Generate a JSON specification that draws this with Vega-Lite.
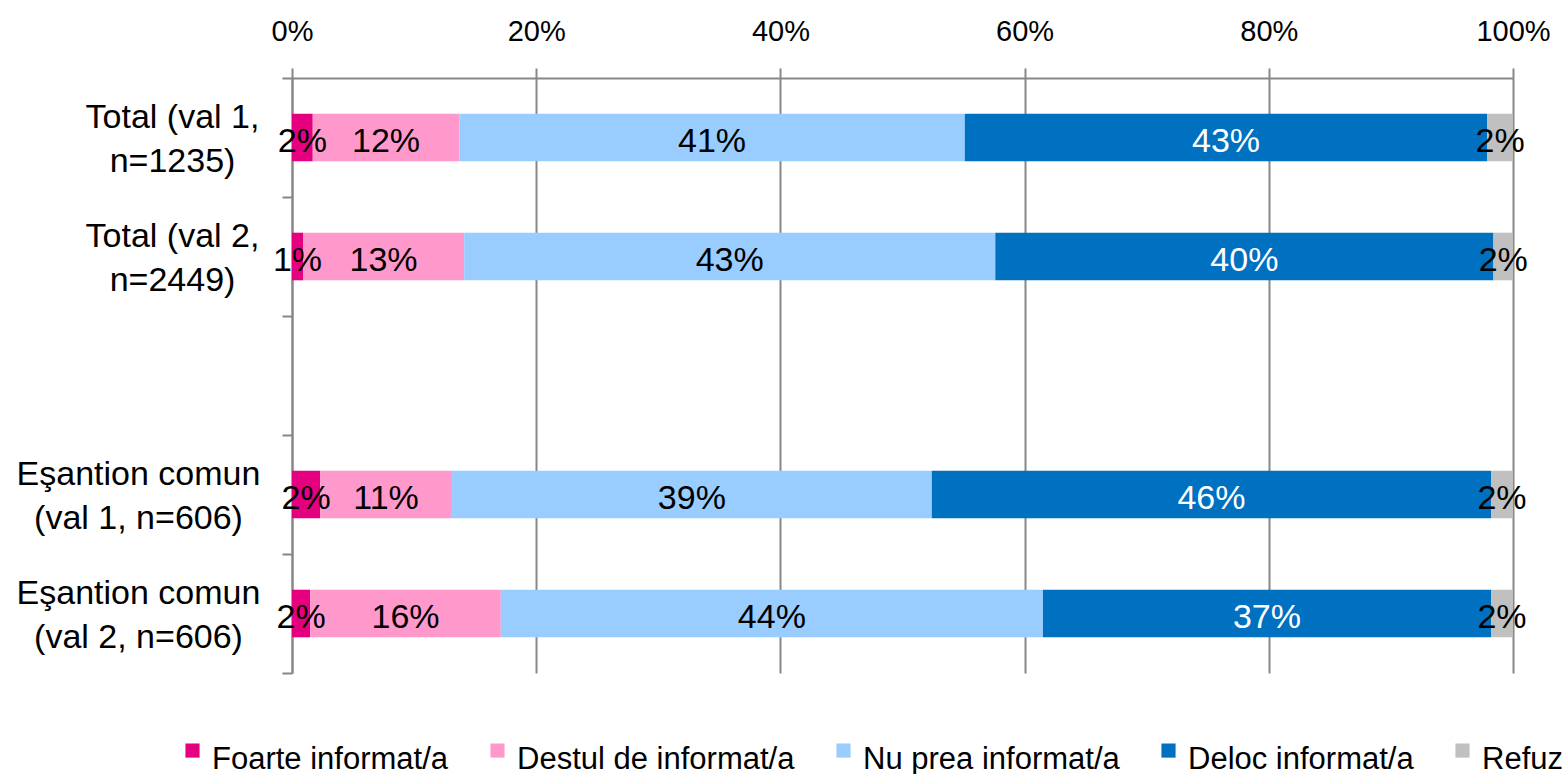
{
  "$schema": "https://vega.github.io/schema/vega-lite/v6.json",
  "autosize": {"type": "none"},
  "width": 1221,
  "height": 595,
  "padding": {"left": 292, "top": 78, "right": 49, "bottom": 101},
  "background": "white",
  "config": {
    "font": "Liberation Sans",
    "view": {"stroke": null}
  },
  "data": {
    "values": [
      {"cat": "Total (val 1,|n=1235)", "answer": "Foarte informat/a", "k": 1, "value": 1.7, "label": "2%"},
      {"cat": "Total (val 1,|n=1235)", "answer": "Destul de informat/a", "k": 2, "value": 12.0, "label": "12%"},
      {"cat": "Total (val 1,|n=1235)", "answer": "Nu prea informat/a", "k": 3, "value": 41.4, "label": "41%"},
      {"cat": "Total (val 1,|n=1235)", "answer": "Deloc informat/a", "k": 4, "value": 42.8, "label": "43%"},
      {"cat": "Total (val 1,|n=1235)", "answer": "Refuz", "k": 5, "value": 2.1, "label": "2%"},
      {"cat": "Total (val 2,|n=2449)", "answer": "Foarte informat/a", "k": 1, "value": 0.9, "label": "1%"},
      {"cat": "Total (val 2,|n=2449)", "answer": "Destul de informat/a", "k": 2, "value": 13.2, "label": "13%"},
      {"cat": "Total (val 2,|n=2449)", "answer": "Nu prea informat/a", "k": 3, "value": 43.5, "label": "43%"},
      {"cat": "Total (val 2,|n=2449)", "answer": "Deloc informat/a", "k": 4, "value": 40.8, "label": "40%"},
      {"cat": "Total (val 2,|n=2449)", "answer": "Refuz", "k": 5, "value": 1.6, "label": "2%"},
      {"cat": "Eşantion comun|(val 1, n=606)", "answer": "Foarte informat/a", "k": 1, "value": 2.3, "label": "2%"},
      {"cat": "Eşantion comun|(val 1, n=606)", "answer": "Destul de informat/a", "k": 2, "value": 10.8, "label": "11%"},
      {"cat": "Eşantion comun|(val 1, n=606)", "answer": "Nu prea informat/a", "k": 3, "value": 39.3, "label": "39%"},
      {"cat": "Eşantion comun|(val 1, n=606)", "answer": "Deloc informat/a", "k": 4, "value": 45.8, "label": "46%"},
      {"cat": "Eşantion comun|(val 1, n=606)", "answer": "Refuz", "k": 5, "value": 1.8, "label": "2%"},
      {"cat": "Eşantion comun|(val 2, n=606)", "answer": "Foarte informat/a", "k": 1, "value": 1.5, "label": "2%"},
      {"cat": "Eşantion comun|(val 2, n=606)", "answer": "Destul de informat/a", "k": 2, "value": 15.6, "label": "16%"},
      {"cat": "Eşantion comun|(val 2, n=606)", "answer": "Nu prea informat/a", "k": 3, "value": 44.4, "label": "44%"},
      {"cat": "Eşantion comun|(val 2, n=606)", "answer": "Deloc informat/a", "k": 4, "value": 36.7, "label": "37%"},
      {"cat": "Eşantion comun|(val 2, n=606)", "answer": "Refuz", "k": 5, "value": 1.8, "label": "2%"}
    ]
  },
  "layer": [
    {
      "mark": {"type": "bar", "height": {"band": 0.4}},
      "encoding": {
        "y": {
          "field": "cat", "type": "nominal", "sort": null,
          "scale": {
            "domain": ["Total (val 1,|n=1235)", "Total (val 2,|n=2449)", " ", "Eşantion comun|(val 1, n=606)", "Eşantion comun|(val 2, n=606)"],
            "paddingInner": 0, "paddingOuter": 0
          },
          "axis": {
            "title": null,
            "orient": "left",
            "grid": false,
            "domain": true, "domainColor": "#878787", "domainWidth": 2,
            "ticks": true, "tickBand": "extent", "tickSize": 10, "tickColor": "#878787", "tickWidth": 2,
            "labelExpr": "isString(datum.value) ? split(datum.value, '|') : ''",
            "labelFontSize": 34, "labelLineHeight": 44, "labelColor": "#000000",
            "labelAlign": "center",
            "labelPadding": {"condition": {"test": "isString(datum.value) && indexof(datum.value, 'Total') === 0", "value": 110}, "value": 144},
            "labelOffset": -20,
            "labelOverlap": false, "labelLimit": 0
          }
        },
        "x": {
          "field": "value", "type": "quantitative", "stack": "normalize",
          "scale": {"domain": [0, 1], "nice": false},
          "axis": {
            "title": null, "orient": "top",
            "values": [0, 0.2, 0.4, 0.6, 0.8, 1],
            "format": ".0%",
            "grid": true, "gridColor": "#878787", "gridWidth": 2,
            "domain": true, "domainColor": "#878787", "domainWidth": 2,
            "ticks": true, "tickSize": 10, "tickColor": "#878787", "tickWidth": 2,
            "labelFontSize": 29, "labelColor": "#000000",
            "labelBaseline": "alphabetic", "labelPadding": 28,
            "labelFlush": false, "labelOverlap": false
          }
        },
        "color": {
          "field": "answer", "type": "nominal",
          "scale": {
            "domain": ["Foarte informat/a", "Destul de informat/a", "Nu prea informat/a", "Deloc informat/a", "Refuz"],
            "range": ["#E4007E", "#FF99CC", "#99CCFF", "#0070C0", "#C0C0C0"]
          },
          "legend": {
            "title": null, "orient": "none", "legendX": -115, "legendY": 666,
            "direction": "horizontal", "columns": 5,
            "symbolType": "M-1,-2.3H1V-0.3H-1Z", "symbolSize": 200, "symbolStrokeWidth": 0,
            "labelFontSize": 31, "labelColor": "#000000", "labelOffset": 4, "labelLimit": 0,
            "columnPadding": 33, "padding": 0
          }
        },
        "order": {"field": "k", "type": "quantitative"}
      }
    },
    {
      "mark": {"type": "text", "fontSize": 34, "baseline": "alphabetic", "dy": 14, "align": "center"},
      "encoding": {
        "y": {"field": "cat", "type": "nominal", "sort": null},
        "x": {"field": "value", "type": "quantitative", "stack": "normalize", "bandPosition": 0.5},
        "detail": {"field": "answer", "type": "nominal"},
        "order": {"field": "k", "type": "quantitative"},
        "text": {"field": "label", "type": "nominal"},
        "color": {"condition": {"test": "datum.answer === 'Deloc informat/a'", "value": "#FFFFFF"}, "value": "#000000"}
      }
    }
  ]
}
